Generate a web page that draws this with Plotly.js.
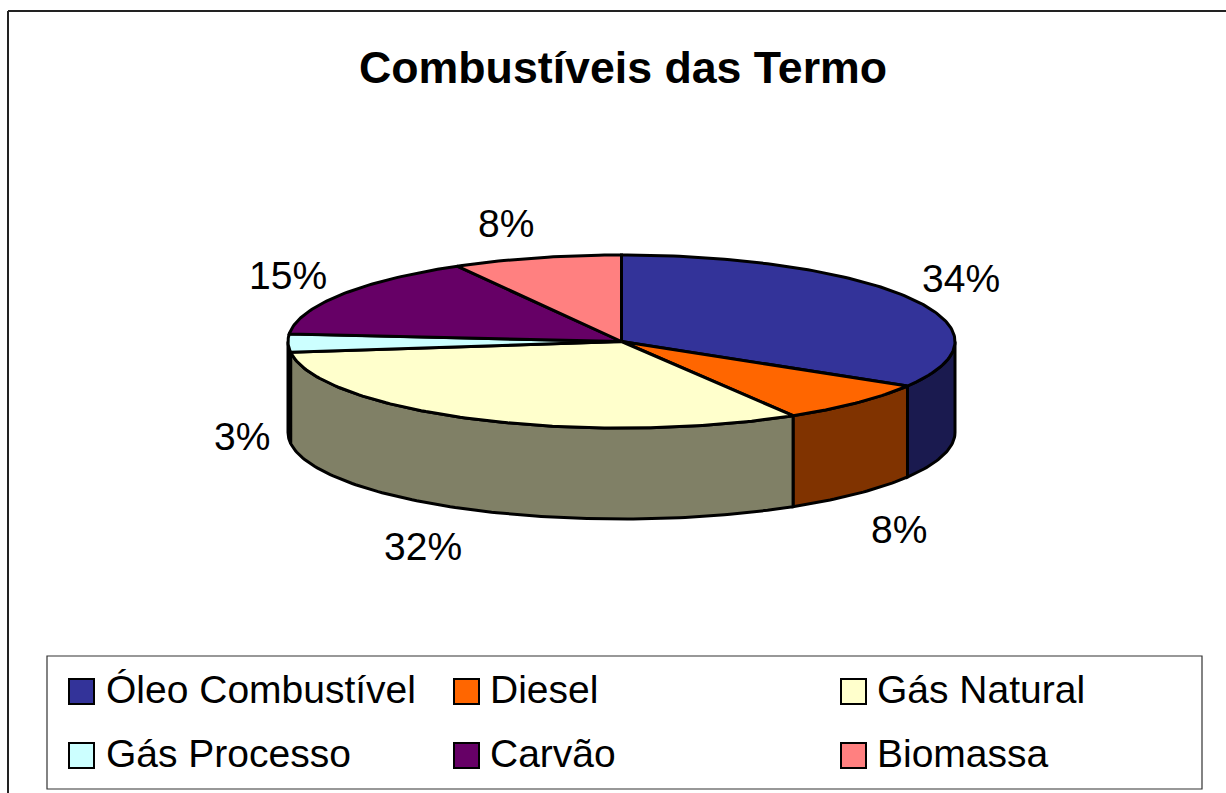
<!DOCTYPE html>
<html><head><meta charset="utf-8">
<script src="https://cdn.plot.ly/plotly-3.0.1.min.js"></script>
<style>html,body{margin:0;padding:0;background:#fff;overflow:hidden}#chart{width:1226px;height:793px}</style>
</head><body><div id="chart"></div>
<script>
const chartTitle = "Combustíveis das Termo";
const categories = ["Óleo Combustível","Diesel","Gás Natural","Gás Processo","Carvão","Biomassa"];
const shares = [33.6,7.8,31.6,3.4,15.4,8.2];
const colors = ["#333399","#FF6600","#FFFFCC","#CCFFFF","#660066","#FF8080"];
const wallColors = ["#1A1A4F","#803300","#808066","#668080","#330033","#804040"];
const labelX = [961,899,423,242,288,506];
const labelY = [278,529,546,436,275,223];
const legendKeyX = [68,453,840,68,453,840];
const legendKeyY = [678,678,678,742,742,742];
const legendTextX = [104,488,875,104,488,875];

const cx=621.5, cy=341.5, rx=333.5, ry=86.5, depth=91;
const FONT='"Liberation Sans", Arial, sans-serif';

function arc(a0,a1,dy){
  const n=Math.max(2,Math.ceil(Math.abs(a1-a0))), xs=[], ys=[];
  for(let i=0;i<=n;i++){
    const t=(a0+(a1-a0)*i/n)*Math.PI/180;
    xs.push(cx+rx*Math.sin(t)); ys.push(cy-ry*Math.cos(t)+dy);
  }
  return [xs,ys];
}
const outline={color:"#000",width:3};
const walls=[], tops=[];
let acc=0;
shares.forEach((v,i)=>{
  const a0=acc*3.6, a1=(acc+v)*3.6; acc+=v;
  const b0=Math.max(a0,90), b1=Math.min(a1,270);
  if(b1>b0){
    const [xt,yt]=arc(b0,b1,0), [xb,yb]=arc(b1,b0,depth);
    walls.push({type:"scatter",mode:"lines",x:[...xt,...xb,xt[0]],y:[...yt,...yb,yt[0]],
      fill:"toself",fillcolor:wallColors[i],line:outline,hoverinfo:"skip",showlegend:false});
  }
  const [xa,ya]=arc(a0,a1,0);
  tops.push({type:"scatter",mode:"lines",x:[cx,...xa,cx],y:[cy,...ya,cy],
    fill:"toself",fillcolor:colors[i],line:outline,name:categories[i],
    text:Math.round(v)+"%",hoverinfo:"name+text",showlegend:false});
});

const annotations=[{text:chartTitle,xref:"x",yref:"y",x:622.5,y:67,showarrow:false,
  font:{family:FONT,size:44.7,color:"#000",weight:700}}];
shares.forEach((v,i)=>annotations.push({text:Math.round(v)+"%",xref:"x",yref:"y",x:labelX[i],y:labelY[i],
  showarrow:false,font:{family:FONT,size:39,color:"#000"}}));
const shapes=[
  {type:"line",x0:8,x1:8,y0:11,y1:793,line:{color:"#222",width:2}},
  {type:"line",x0:8,x1:1226,y0:11,y1:11,line:{color:"#222",width:2}},
  {type:"rect",x0:47,x1:1202,y0:656,y1:789,line:{color:"#333",width:1.2},fillcolor:"#fff"}
];
categories.forEach((c,i)=>{
  shapes.push({type:"rect",x0:legendKeyX[i]+1,x1:legendKeyX[i]+26,y0:legendKeyY[i]+1,y1:legendKeyY[i]+26,
    line:{color:"#000",width:2},fillcolor:colors[i]});
  annotations.push({text:c,xref:"x",yref:"y",x:legendTextX[i],y:legendKeyY[i]+11,xanchor:"left",showarrow:false,
    font:{family:FONT,size:39,color:"#000"}});
});

Plotly.newPlot("chart",[...walls,...tops],{
  width:1226,height:793,margin:{l:0,r:0,t:0,b:0},paper_bgcolor:"#fff",plot_bgcolor:"#fff",showlegend:false,
  xaxis:{range:[0,1226],visible:false,fixedrange:true},
  yaxis:{range:[793,0],visible:false,fixedrange:true},
  shapes,annotations
},{displayModeBar:false,staticPlot:true});
</script></body></html>
